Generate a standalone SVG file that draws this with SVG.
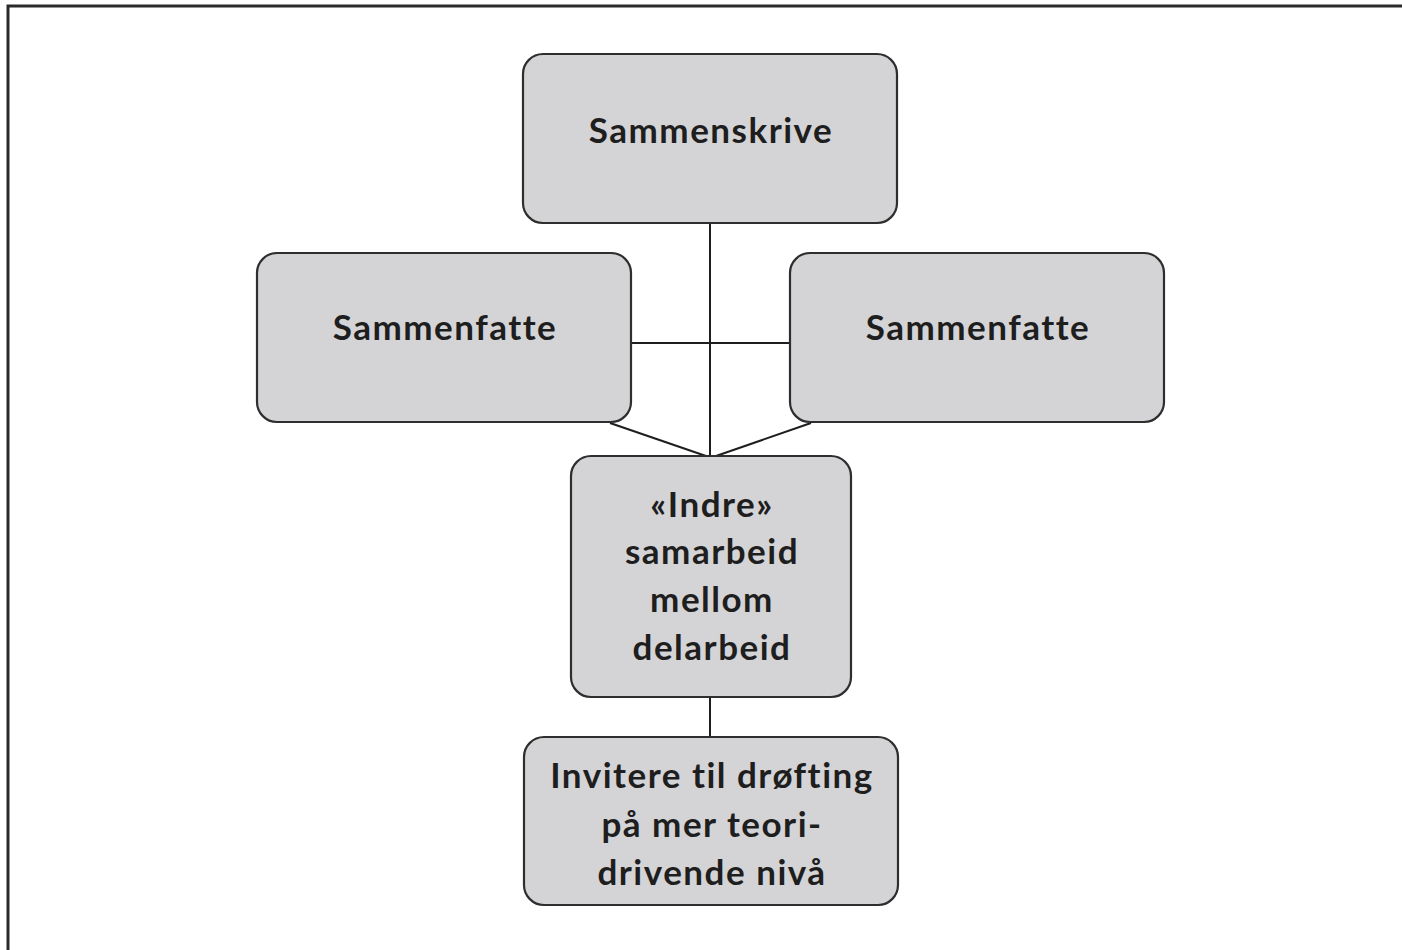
<svg xmlns="http://www.w3.org/2000/svg" width="1402" height="950" viewBox="0 0 1402 950">
<style>
.box{fill:#d4d4d6;stroke:#2e2e2e;stroke-width:2.2}
.lbl{font-family:Lato,"Liberation Sans",sans-serif;font-weight:700;font-size:35px;letter-spacing:1.5px;fill:#1e1e1e;text-anchor:middle}
.con{stroke:#1e1e1e;stroke-width:2;fill:none}
</style>
<rect width="1402" height="950" fill="#ffffff"/>
<path d="M8 950 V6 H1402" fill="none" stroke="#2a2a2a" stroke-width="3"/>
<g id="connectors">
<line class="con" x1="710" y1="223" x2="710" y2="456"/>
<line class="con" x1="631" y1="343" x2="790" y2="343"/>
<line class="con" x1="610" y1="423" x2="706" y2="456"/>
<line class="con" x1="811" y1="423" x2="716" y2="456"/>
<line class="con" x1="710" y1="697" x2="710" y2="737"/>
</g>
<g id="n-sammenskrive">
<rect class="box" x="523" y="54" width="374" height="169" rx="20"/>
<text class="lbl" x="711" y="143">Sammenskrive</text>
</g>
<g id="n-sammenfatte-left">
<rect class="box" x="257" y="253" width="374" height="169" rx="20"/>
<text class="lbl" x="445" y="340">Sammenfatte</text>
</g>
<g id="n-sammenfatte-right">
<rect class="box" x="790" y="253" width="374" height="169" rx="20"/>
<text class="lbl" x="978" y="340">Sammenfatte</text>
</g>
<g id="n-indre">
<rect class="box" x="571" y="456" width="280" height="241" rx="20"/>
<text class="lbl" x="712" y="517">«Indre»</text>
<text class="lbl" x="712" y="564">samarbeid</text>
<text class="lbl" x="712" y="612">mellom</text>
<text class="lbl" x="712" y="660">delarbeid</text>
</g>
<g id="n-invitere">
<rect class="box" x="524" y="737" width="374" height="168" rx="20"/>
<text class="lbl" x="712" y="788">Invitere til drøfting</text>
<text class="lbl" x="712" y="837">på mer teori-</text>
<text class="lbl" x="712" y="885">drivende nivå</text>
</g>
</svg>
